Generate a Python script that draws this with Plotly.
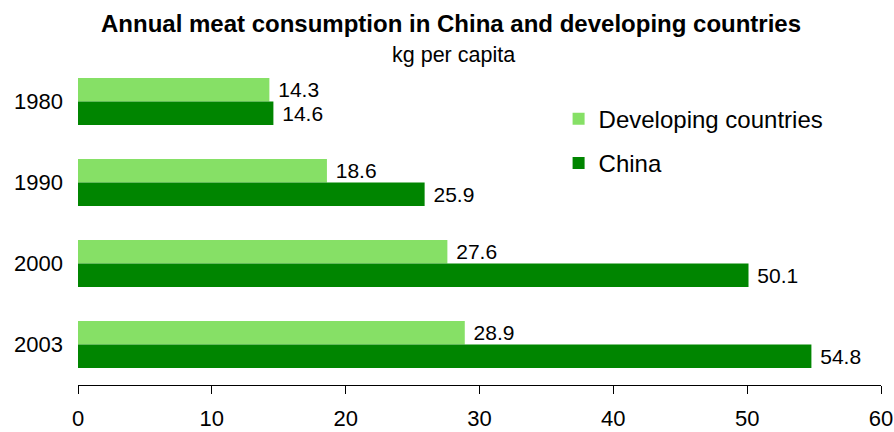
import plotly.graph_objects as go

years = ["1980", "1990", "2000", "2003"]
developing = [14.3, 18.6, 27.6, 28.9]
china = [14.6, 25.9, 50.1, 54.8]
x_ticks = [0, 10, 20, 30, 40, 50, 60]

FONT = "Liberation Sans, Arial, sans-serif"

fig = go.Figure()
fig.add_trace(go.Bar(
    y=years, x=developing, orientation="h", name="Developing countries",
    marker=dict(color="#86E066", line=dict(width=0)),
    texttemplate=" %{x:.1f}", textposition="outside", cliponaxis=False,
    textfont=dict(size=21, color="black", family=FONT),
    legendgroup="a",
))
fig.add_trace(go.Bar(
    y=years, x=china, orientation="h", name="China",
    marker=dict(color="#008500", line=dict(width=0)),
    texttemplate=" %{x:.1f}", textposition="outside", cliponaxis=False,
    textfont=dict(size=21, color="black", family=FONT),
    legendgroup="b",
))

fig.update_layout(
    width=894, height=432,
    margin=dict(l=78, r=13, t=61, b=47, autoexpand=False),
    paper_bgcolor="white", plot_bgcolor="white",
    barmode="group", bargap=0.42, bargroupgap=0,
    font=dict(family=FONT, color="black", size=20),
    showlegend=True,
    legend=dict(x=0.5985, y=0.89, xanchor="left", yanchor="top",
                font=dict(size=24, color="black", family=FONT),
                tracegroupgap=10, itemwidth=30, bgcolor="rgba(0,0,0,0)"),
    annotations=[
        dict(text="<b>Annual meat consumption in China and developing countries</b>",
             xref="paper", yref="paper", x=0.465, y=1, xanchor="center", yanchor="middle",
             yshift=61 - 23, showarrow=False, font=dict(size=24, color="black", family=FONT)),
        dict(text="kg per capita",
             xref="paper", yref="paper", x=0.468, y=1, xanchor="center", yanchor="middle",
             yshift=61 - 55, showarrow=False, font=dict(size=21.5, color="black", family=FONT)),
    ],
)
fig.update_xaxes(range=[0, 60], tickvals=x_ticks, showgrid=False, zeroline=False,
                 showline=True, linecolor="black", linewidth=1,
                 ticks="outside", ticklen=8, tickcolor="black", tickwidth=1,
                 ticklabelstandoff=6,
                 tickfont=dict(size=22, color="black", family=FONT))
fig.update_yaxes(autorange="reversed", showgrid=False, zeroline=False, showline=False,
                 ticks="", ticklabelstandoff=14,
                 tickfont=dict(size=22, color="black", family=FONT))

fig.write_html("out.html")
